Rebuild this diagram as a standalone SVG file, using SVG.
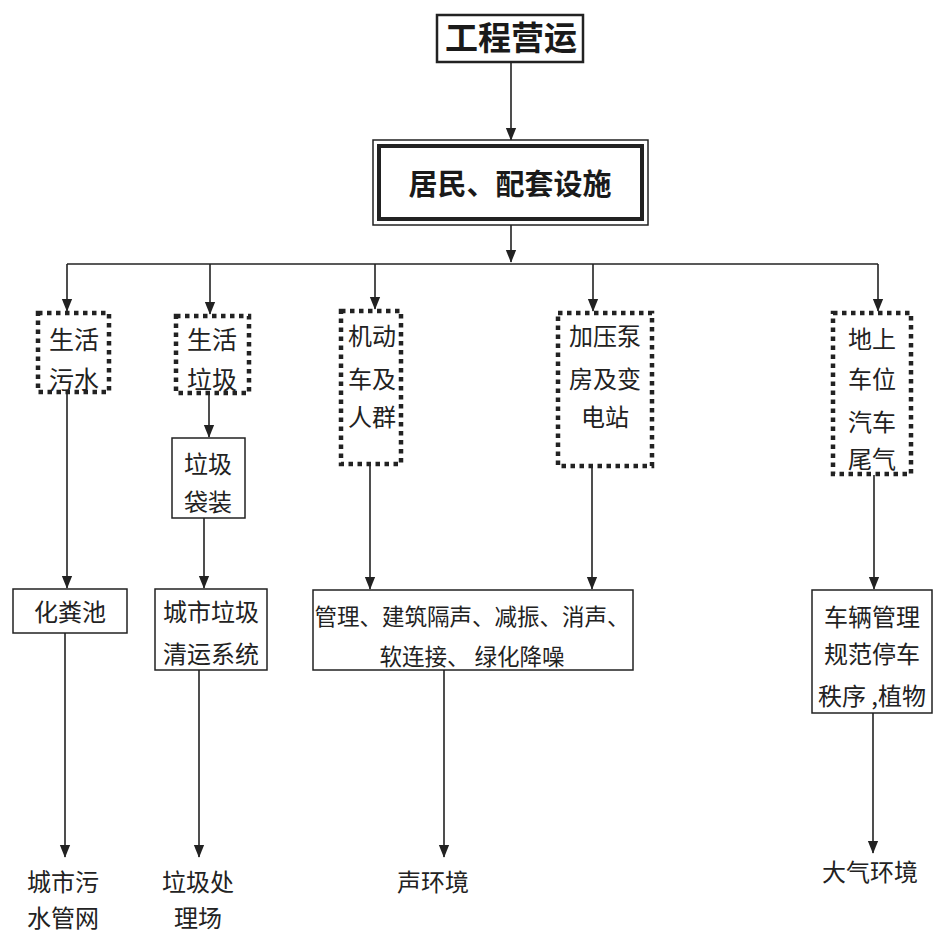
<svg xmlns="http://www.w3.org/2000/svg" width="933" height="934" viewBox="0 0 933 934">
<defs>
<style>
.t{font-family:"Noto Sans CJK SC","Noto Sans",sans-serif;font-size:24px;fill:#222;text-anchor:middle}
.b{font-weight:bold;fill:#1a1a1a}
.s33{font-size:33px}
.s29{font-size:29px}
.s25{font-size:25px}
.s22{font-size:22.5px}
.solid{fill:#fff;stroke:#222;stroke-width:1.5}
.dot{fill:#fff;stroke:#222;stroke-width:4.5;stroke-dasharray:4.5 4.5}
.c{stroke:#222;stroke-width:1.6;fill:none}
</style>
<marker id="av" markerUnits="userSpaceOnUse" markerWidth="13" markerHeight="15" refX="14" refY="6" orient="auto" viewBox="0 0 15 12">
<path d="M0,0 L15,6 L0,12 Z" fill="#222"/>
</marker>
</defs>
<rect width="933" height="934" fill="#fff"/>
<g id="connectors">
<line class="c" x1="511" y1="62" x2="511" y2="140" marker-end="url(#av)"/>
<line class="c" x1="511" y1="225" x2="511" y2="262" marker-end="url(#av)"/>
<line class="c" x1="67" y1="264" x2="878" y2="264"/>
<line class="c" x1="67" y1="264" x2="67" y2="311" marker-end="url(#av)"/>
<line class="c" x1="210" y1="264" x2="210" y2="314" marker-end="url(#av)"/>
<line class="c" x1="375" y1="264" x2="375" y2="309" marker-end="url(#av)"/>
<line class="c" x1="593" y1="264" x2="593" y2="311" marker-end="url(#av)"/>
<line class="c" x1="878" y1="264" x2="878" y2="311" marker-end="url(#av)"/>
<line class="c" x1="67" y1="392" x2="67" y2="588" marker-end="url(#av)"/>
<line class="c" x1="209" y1="393" x2="209" y2="437" marker-end="url(#av)"/>
<line class="c" x1="204" y1="518" x2="204" y2="588" marker-end="url(#av)"/>
<line class="c" x1="370" y1="465" x2="370" y2="589" marker-end="url(#av)"/>
<line class="c" x1="592" y1="467" x2="592" y2="589" marker-end="url(#av)"/>
<line class="c" x1="874" y1="475" x2="874" y2="589" marker-end="url(#av)"/>
<line class="c" x1="65" y1="633" x2="65" y2="857" marker-end="url(#av)"/>
<line class="c" x1="199" y1="670" x2="199" y2="857" marker-end="url(#av)"/>
<line class="c" x1="444" y1="670" x2="444" y2="857" marker-end="url(#av)"/>
<line class="c" x1="873" y1="713" x2="873" y2="853" marker-end="url(#av)"/>
</g>
<g id="n1">
<rect x="437" y="15" width="146" height="47" fill="#fff" stroke="#222" stroke-width="2.5"/>
<text class="t b s33" x="511" y="50">工程营运</text>
</g>
<g id="n2">
<rect x="373" y="140" width="275" height="85" fill="#fff" stroke="#222" stroke-width="1.5"/>
<rect x="379" y="146" width="263" height="73" fill="none" stroke="#222" stroke-width="4"/>
<text class="t b s29" x="510" y="195">居民、配套设施</text>
</g>
<g id="n3">
<rect class="dot" x="38" y="313" width="71" height="79"/>
<text class="t s25" x="74" y="349">生活</text>
<text class="t s25" x="74" y="389">污水</text>
</g>
<g id="n4">
<rect class="dot" x="176" y="316" width="73" height="77"/>
<text class="t s25" x="212" y="349">生活</text>
<text class="t s25" x="212" y="389">垃圾</text>
</g>
<g id="n5">
<rect class="dot" x="341" y="311" width="60" height="153"/>
<text class="t" x="372" y="345">机动</text>
<text class="t" x="372" y="388">车及</text>
<text class="t" x="372" y="426">人群</text>
</g>
<g id="n6">
<rect class="dot" x="558" y="313" width="94" height="153"/>
<text class="t" x="605" y="345">加压泵</text>
<text class="t" x="605" y="388">房及变</text>
<text class="t" x="605" y="426">电站</text>
</g>
<g id="n7">
<rect class="dot" x="833" y="313" width="78" height="161"/>
<text class="t" x="872" y="348">地上</text>
<text class="t" x="872" y="388">车位</text>
<text class="t" x="872" y="431">汽车</text>
<text class="t" x="872" y="468">尾气</text>
</g>
<g id="n8">
<rect class="solid" x="172" y="438" width="73" height="80"/>
<text class="t" x="208" y="473">垃圾</text>
<text class="t" x="208" y="511">袋装</text>
</g>
<g id="n9">
<rect class="solid" x="13" y="589" width="114" height="44"/>
<text class="t" x="70" y="621">化粪池</text>
</g>
<g id="n10">
<rect class="solid" x="155" y="589" width="112" height="81"/>
<text class="t" x="211" y="621">城市垃圾</text>
<text class="t" x="211" y="663">清运系统</text>
</g>
<g id="n11">
<rect class="solid" x="313" y="590" width="320" height="80"/>
<text class="t s22" x="472" y="625">管理、建筑隔声、减振、消声、</text>
<text class="t s22" x="472" y="665">软连接、 绿化降噪</text>
</g>
<g id="n12">
<rect class="solid" x="812" y="590" width="120" height="123"/>
<text class="t" x="872" y="626">车辆管理</text>
<text class="t" x="872" y="663">规范停车</text>
<text class="t" x="872" y="705">秩序 ,植物</text>
</g>
<g id="n13">
<text class="t" x="63" y="891">城市污</text>
<text class="t" x="63" y="927">水管网</text>
</g>
<g id="n14">
<text class="t" x="198" y="891">垃圾处</text>
<text class="t" x="198" y="927">理场</text>
</g>
<g id="n15">
<text class="t" x="433" y="891">声环境</text>
</g>
<g id="n16">
<text class="t" x="870" y="881">大气环境</text>
</g>
</svg>
